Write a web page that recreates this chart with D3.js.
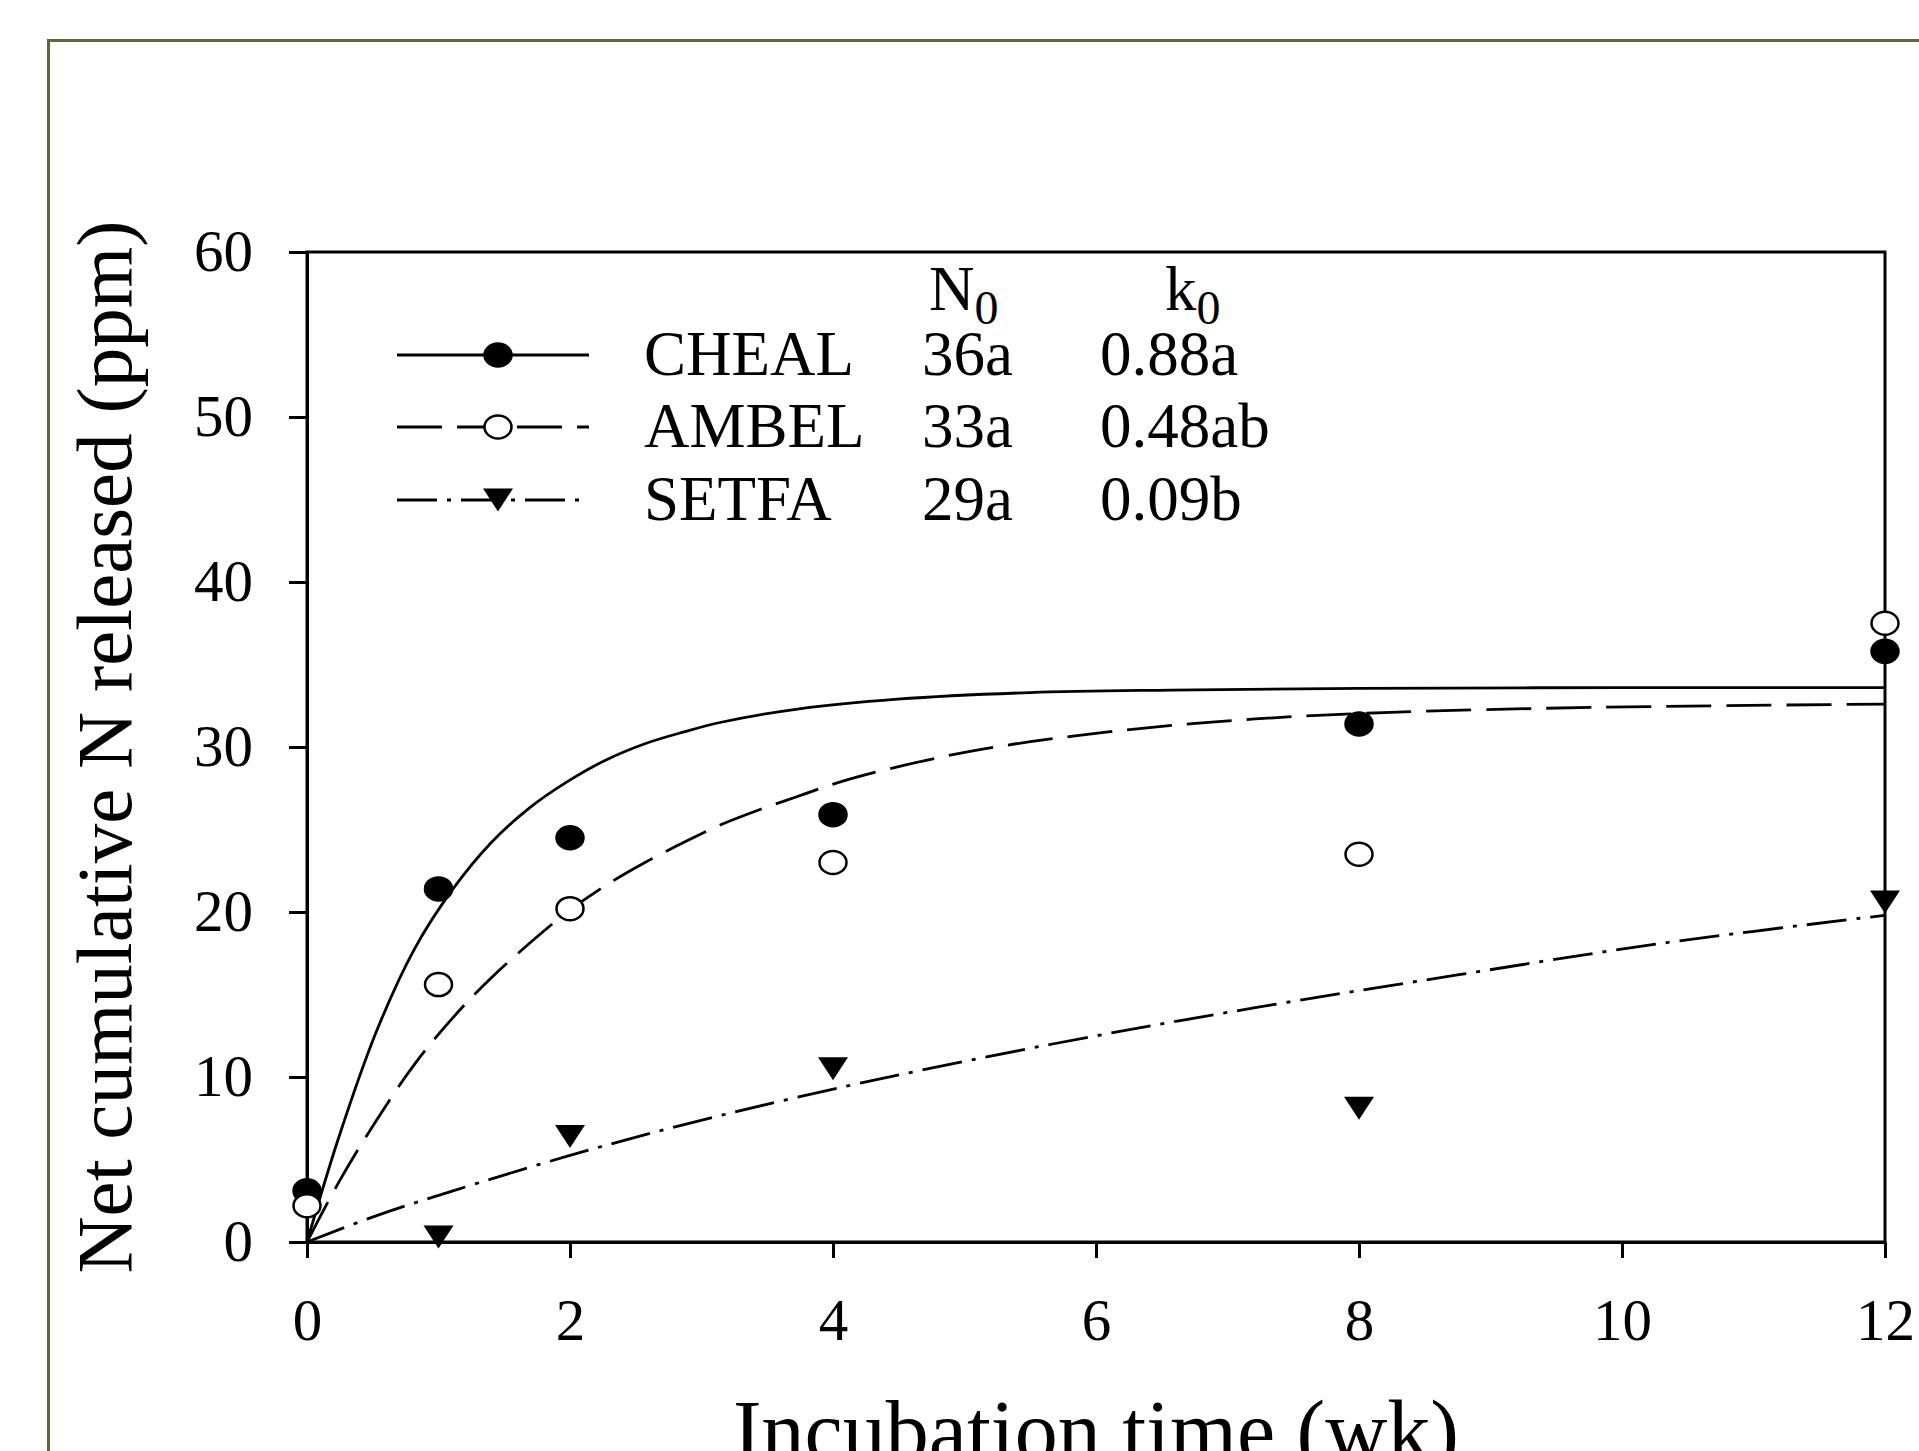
<!DOCTYPE html>
<html>
<head>
  <meta charset="utf-8">
  <title>Net cumulative N released</title>
  <script src="https://d3js.org/d3.v7.min.js"></script>
  <style>
    body { margin: 0; background: #fff; }
    svg { display: block; }
    text { font-family: "Liberation Serif", "Times New Roman", serif; fill: #000; }
    .axis path, .axis line { stroke: #000; shape-rendering: crispEdges; }
    .axis path { stroke-width: 3px; }
    .axis line { stroke-width: 2.5px; }
    .axis text { font-size: 59px; }
    .fit { fill: none; stroke: #000; stroke-width: 2.8px; }
  </style>
</head>
<body>
  <script>
    // observed points (week, ppm)
    var weeks = [0, 1, 2, 4, 8, 12];
    var chealObs = [3.1, 21.4, 24.5, 25.9, 31.4, 35.8];
    var ambelObs = [2.2, 15.6, 20.2, 23.0, 23.5, 37.5];
    var setfaObs = [null, 0.3, 6.4, 10.5, 8.1, 20.6];

    // fitted curves
    var chealFitT = [0, 0.24, 0.53, 0.82, 1.11, 1.40, 1.69, 1.98, 2.27, 2.57, 2.86, 3.15, 3.73, 4.49, 5.5, 6.57, 8, 10, 12];
    var chealFitN = [0, 6.3, 12.8, 17.8, 21.4, 24.2, 26.3, 27.9, 29.2, 30.2, 30.9, 31.5, 32.3, 32.9, 33.3, 33.45, 33.55, 33.6, 33.6];
    var ambelFitT = [0, 0.24, 0.53, 0.82, 1.11, 1.40, 1.75, 1.98, 2.27, 2.57, 2.86, 3.15, 3.44, 3.73, 4.02, 4.49, 5.16, 6.19, 7.21, 8.24, 9.78, 12];
    var ambelFitN = [0, 3.6, 7.4, 10.8, 13.6, 16.0, 18.5, 20.0, 21.6, 23.0, 24.2, 25.3, 26.2, 27.0, 27.8, 28.8, 29.9, 31.0, 31.7, 32.1, 32.4, 32.6];
    var setfaFitT = [0, 0.53, 1.11, 1.98, 2.86, 4.02, 5.67, 7.21, 8.76, 10.3, 12];
    var setfaFitN = [0, 1.6, 3.1, 5.2, 7.1, 9.3, 12.0, 14.2, 16.2, 18.1, 19.8];

    var xTicks = [0, 2, 4, 6, 8, 10, 12];
    var yTicks = [0, 10, 20, 30, 40, 50, 60];

    var legendNames = ["CHEAL", "AMBEL", "SETFA"];
    var legendN0 = ["36a", "33a", "29a"];
    var legendK0 = ["0.88a", "0.48ab", "0.09b"];

    var W = 1919, H = 1451;
    var plotLeft = 307, plotRight = 1885, plotTop = 252, plotBottom = 1242;

    var x = d3.scaleLinear().domain([0, 12]).range([plotLeft, plotRight]);
    var y = d3.scaleLinear().domain([0, 60]).range([plotBottom, plotTop]);

    var svg = d3.select("body").append("svg")
        .attr("width", W)
        .attr("height", H);

    svg.append("rect").attr("width", W).attr("height", H).attr("fill", "#fff");

    // olive page frame (runs off right and bottom edges)
    svg.append("rect")
        .attr("x", 48.5).attr("y", 40.5)
        .attr("width", W).attr("height", H)
        .attr("fill", "none")
        .attr("stroke", "#5b6d2c")
        .attr("stroke-width", 3);

    // plot box
    svg.append("rect")
        .attr("x", plotLeft).attr("y", plotTop)
        .attr("width", plotRight - plotLeft).attr("height", plotBottom - plotTop)
        .attr("fill", "none")
        .attr("stroke", "#000")
        .attr("stroke-width", 3);

    svg.append("g")
        .attr("class", "axis")
        .attr("transform", "translate(0," + plotBottom + ")")
        .call(d3.axisBottom(x).tickValues(xTicks).tickSize(16).tickSizeOuter(0).tickPadding(40));

    svg.append("g")
        .attr("class", "axis")
        .attr("transform", "translate(" + plotLeft + ",0)")
        .call(d3.axisLeft(y).tickValues(yTicks).tickSize(18).tickSizeOuter(0).tickPadding(36));

    svg.append("text")
        .attr("x", (plotLeft + plotRight) / 2)
        .attr("y", 1460)
        .attr("text-anchor", "middle")
        .style("font-size", "86px")
        .text("Incubation time (wk)");

    svg.append("text")
        .attr("transform", "translate(131," + (plotTop + plotBottom) / 2 + ") rotate(-90)")
        .attr("text-anchor", "middle")
        .style("font-size", "79px")
        .text("Net cumulative N released (ppm)");

    // fitted curves
    var line = d3.line()
        .curve(d3.curveCatmullRom.alpha(0.5))
        .x(function(d) { return x(d[0]); })
        .y(function(d) { return y(d[1]); });

    var fits = [
      {t: chealFitT, n: chealFitN, dash: null},
      {t: ambelFitT, n: ambelFitN, dash: "45,15"},
      {t: setfaFitT, n: setfaFitN, dash: "40,10,4,10"}
    ];

    fits.forEach(function(f) {
      svg.append("path")
          .datum(d3.zip(f.t, f.n))
          .attr("class", "fit")
          .attr("stroke-dasharray", f.dash)
          .attr("d", line);
    });

    // markers
    function drawMarker(g, kind, cx, cy) {
      if (kind === "tri") {
        g.append("path")
            .attr("d", "M" + (cx - 15) + "," + (cy - 11.5) + "L" + (cx + 15) + "," + (cy - 11.5) + "L" + cx + "," + (cy + 11.5) + "Z")
            .attr("fill", "#000");
      } else {
        g.append("ellipse")
            .attr("cx", cx).attr("cy", cy)
            .attr("rx", 13.5).attr("ry", 11.5)
            .attr("fill", kind === "filled" ? "#000" : "#fff")
            .attr("stroke", "#000")
            .attr("stroke-width", 2.5);
      }
    }

    var series = [
      {obs: chealObs, kind: "filled"},
      {obs: ambelObs, kind: "open"},
      {obs: setfaObs, kind: "tri"}
    ];

    var pts = svg.append("g");
    series.forEach(function(s) {
      s.obs.forEach(function(v, i) {
        if (v === null) return;
        drawMarker(pts, s.kind, x(weeks[i]), y(v));
      });
    });

    // legend
    var legY = [355, 427, 500];
    var dashes = [null, "45,15", "40,10,4,10"];
    var kinds = ["filled", "open", "tri"];
    var lg = svg.append("g").style("font-size", "63px");

    var hN = lg.append("text").attr("x", 929).attr("y", 310);
    hN.append("tspan").text("N");
    hN.append("tspan").attr("dy", 14).style("font-size", "48px").text("0");
    var hK = lg.append("text").attr("x", 1165).attr("y", 310);
    hK.append("tspan").text("k");
    hK.append("tspan").attr("dy", 14).style("font-size", "48px").text("0");

    legendNames.forEach(function(name, i) {
      lg.append("line")
          .attr("x1", 397).attr("x2", 589)
          .attr("y1", legY[i]).attr("y2", legY[i])
          .attr("stroke", "#000")
          .attr("stroke-width", 2.8)
          .attr("stroke-dasharray", dashes[i]);
      drawMarker(lg, kinds[i], 498, legY[i]);
      lg.append("text").attr("x", 644).attr("y", legY[i] + 20).text(name);
      lg.append("text").attr("x", 922).attr("y", legY[i] + 20).text(legendN0[i]);
      lg.append("text").attr("x", 1100).attr("y", legY[i] + 20).text(legendK0[i]);
    });
  </script>
</body>
</html>
